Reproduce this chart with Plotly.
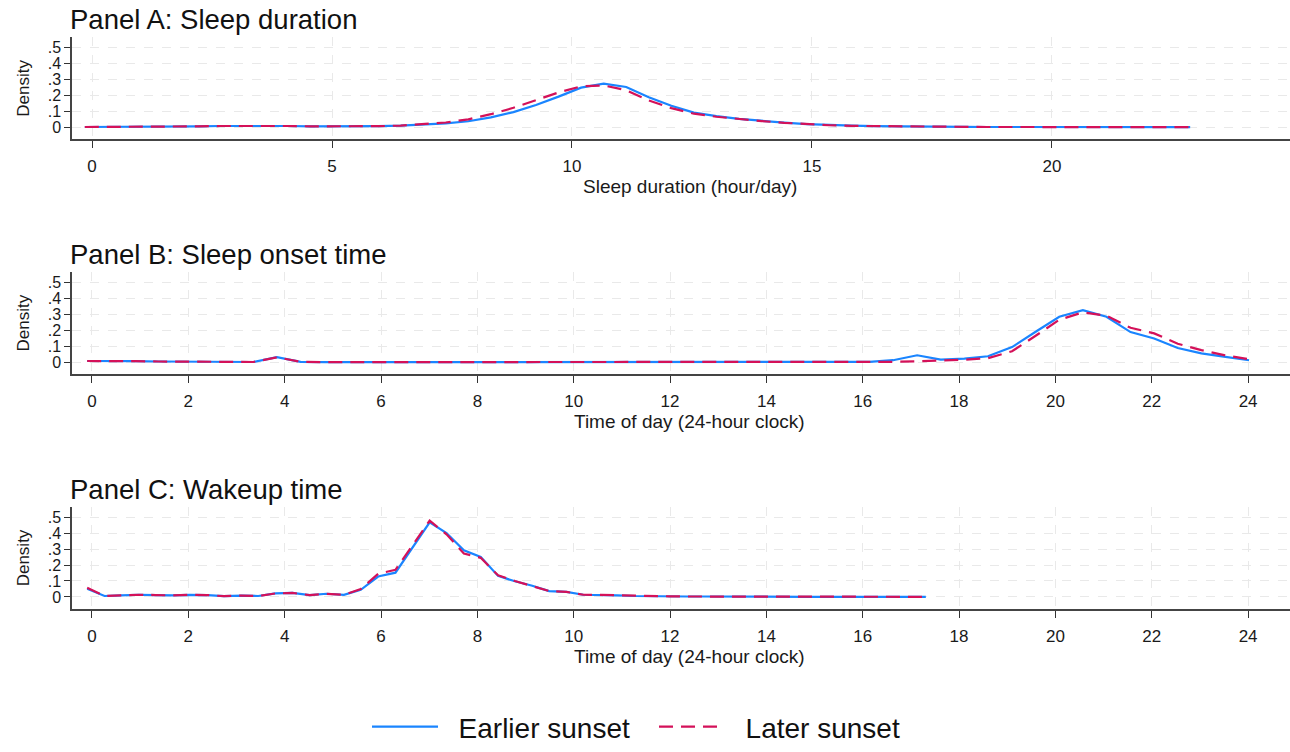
import plotly.graph_objects as go

W, H = 1290, 752

# ---------------- data ----------------
dur_x = [-0.15, 0.32, 0.79, 1.26, 1.73, 2.20, 2.67, 3.14, 3.61, 4.08,
         4.55, 5.02, 5.49, 5.96, 6.43, 6.90, 7.37, 7.84, 8.31, 8.78,
         9.25, 9.72, 10.19, 10.66, 11.13, 11.60, 12.07, 12.54, 13.01, 13.48,
         13.95, 14.42, 14.89, 15.36, 15.83, 16.30, 16.77, 17.24, 17.71, 18.18,
         18.65, 19.12, 19.59, 20.06, 20.53, 21.00, 21.47, 21.94, 22.41, 22.88]
dur_early = [0.002, 0.002, 0.002, 0.003, 0.004, 0.006, 0.008, 0.009, 0.009, 0.008,
             0.006, 0.005, 0.005, 0.007, 0.010, 0.016, 0.024, 0.038, 0.062, 0.095,
             0.140, 0.192, 0.248, 0.273, 0.252, 0.188, 0.135, 0.092, 0.070, 0.053,
             0.040, 0.029, 0.020, 0.014, 0.010, 0.007, 0.005, 0.004, 0.003, 0.003,
             0.002, 0.002, 0.002, 0.001, 0.001, 0.001, 0.001, 0.001, 0.001, 0.001]
dur_late = [0.002, 0.002, 0.002, 0.003, 0.004, 0.006, 0.008, 0.009, 0.009, 0.008,
            0.006, 0.005, 0.005, 0.007, 0.011, 0.019, 0.030, 0.050, 0.082, 0.122,
            0.170, 0.218, 0.256, 0.262, 0.232, 0.168, 0.120, 0.085, 0.066, 0.051,
            0.039, 0.028, 0.019, 0.013, 0.009, 0.007, 0.005, 0.004, 0.003, 0.003,
            0.002, 0.002, 0.002, 0.001, 0.001, 0.001, 0.001, 0.001, 0.001, 0.001]

onset_x = [-0.10, 0.39, 0.88, 1.38, 1.87, 2.36, 2.85, 3.35, 3.84, 4.33,
           4.82, 5.31, 5.81, 6.30, 6.79, 7.28, 7.78, 8.27, 8.76, 9.25,
           9.74, 10.24, 10.73, 11.22, 11.71, 12.21, 12.70, 13.19, 13.68, 14.17,
           14.67, 15.16, 15.65, 16.14, 16.63, 17.13, 17.62, 18.11, 18.60, 19.10,
           19.59, 20.08, 20.57, 21.06, 21.56, 22.05, 22.54, 23.03, 23.53, 24.02]
onset_early = [0.007, 0.008, 0.006, 0.004, 0.003, 0.002, 0.001, 0.001, 0.031, 0.002,
               0.000, 0.000, 0.000, 0.000, 0.000, 0.000, 0.000, 0.000, 0.000, 0.000,
               0.000, 0.000, 0.000, 0.000, 0.000, 0.000, 0.000, 0.000, 0.000, 0.000,
               0.000, 0.000, 0.000, 0.002, 0.012, 0.043, 0.016, 0.022, 0.037, 0.094,
               0.190, 0.284, 0.325, 0.284, 0.188, 0.148, 0.088, 0.055, 0.033, 0.012]
onset_late = [0.007, 0.008, 0.006, 0.004, 0.003, 0.002, 0.001, 0.001, 0.030, 0.002,
              0.000, 0.000, 0.000, 0.000, 0.000, 0.000, 0.000, 0.000, 0.000, 0.000,
              0.000, 0.000, 0.000, 0.000, 0.000, 0.000, 0.000, 0.000, 0.000, 0.000,
              0.000, 0.000, 0.000, 0.001, 0.002, 0.005, 0.010, 0.015, 0.025, 0.068,
              0.165, 0.265, 0.312, 0.290, 0.215, 0.180, 0.115, 0.075, 0.042, 0.018]

wake_x = [-0.10, 0.26, 0.61, 0.97, 1.32, 1.68, 2.03, 2.39, 2.74, 3.10,
          3.45, 3.81, 4.16, 4.52, 4.87, 5.23, 5.58, 5.94, 6.30, 6.65,
          7.01, 7.36, 7.72, 8.07, 8.43, 8.78, 9.14, 9.49, 9.85, 10.20,
          10.56, 10.91, 11.27, 11.62, 11.98, 12.34, 12.69, 13.05, 13.40, 13.76,
          14.11, 14.47, 14.82, 15.18, 15.53, 15.89, 16.24, 16.60, 16.95, 17.31]
wake_early = [0.052, 0.006, 0.010, 0.014, 0.012, 0.010, 0.013, 0.012, 0.005, 0.009,
              0.006, 0.022, 0.025, 0.012, 0.020, 0.013, 0.045, 0.128, 0.152, 0.310,
              0.467, 0.400, 0.292, 0.250, 0.132, 0.098, 0.070, 0.037, 0.032, 0.014,
              0.013, 0.010, 0.006, 0.004, 0.004, 0.003, 0.003, 0.002, 0.002, 0.002,
              0.002, 0.002, 0.001, 0.001, 0.001, 0.001, 0.001, 0.001, 0.001, 0.001]
wake_late = [0.058, 0.006, 0.010, 0.014, 0.012, 0.010, 0.013, 0.012, 0.005, 0.009,
             0.006, 0.022, 0.025, 0.012, 0.020, 0.013, 0.050, 0.145, 0.170, 0.320,
             0.478, 0.392, 0.272, 0.245, 0.135, 0.100, 0.070, 0.037, 0.032, 0.014,
             0.013, 0.010, 0.006, 0.004, 0.004, 0.003, 0.003, 0.002, 0.002, 0.002,
             0.002, 0.002, 0.001, 0.001, 0.001, 0.001, 0.001, 0.001, 0.001, 0.001]

series_names = ["Earlier sunset", "Later sunset"]
panel_titles = ["Panel A: Sleep duration", "Panel B: Sleep onset time", "Panel C: Wakeup time"]
xaxis_titles = ["Sleep duration (hour/day)", "Time of day (24-hour clock)", "Time of day (24-hour clock)"]
y_ticks = [0, 0.1, 0.2, 0.3, 0.4, 0.5]
y_ticklabels = ["0", ".1", ".2", ".3", ".4", ".5"]
dur_ticks = [0, 5, 10, 15, 20]
clock_ticks = [0, 2, 4, 6, 8, 10, 12, 14, 16, 18, 20, 22, 24]

BLUE = "#1a85ff"
RED = "#d41159"
FONT = "Liberation Sans, Arial, sans-serif"
NB = "\u00a0\u00a0"

panels = [
    (dur_x, dur_early, dur_late, dur_ticks, [-0.417, 24.96]),
    (onset_x, onset_early, onset_late, clock_ticks, [-0.415, 24.87]),
    (wake_x, wake_early, wake_late, clock_ticks, [-0.415, 24.87]),
]
# pixel rows (top, bottom) of each plotting area
rows_px = [(38, 141), (276, 379), (514, 617)]
title_y_px = [20, 258, 496]
xtitle_y_px = [189, 427, 665]

fig = go.Figure()
layout = dict(
    width=W, height=H,
    margin=dict(l=0, r=0, t=0, b=0),
    paper_bgcolor="white", plot_bgcolor="white",
    font=dict(family=FONT, color="#1a1a1a"),
    showlegend=True,
    legend=dict(orientation="h", x=654 / W, xanchor="center", y=1 - 737 / H, yanchor="middle",
                font=dict(size=28, color="#111"), itemwidth=66, traceorder="normal",
                entrywidth=206, entrywidthmode="pixels",
                bgcolor="rgba(0,0,0,0)"),
    annotations=[],
)

for i, (xs, ye, yl, ticks, xr) in enumerate(panels):
    n = "" if i == 0 else str(i + 1)
    fig.add_trace(go.Scatter(x=xs, y=ye, mode="lines", name=NB + series_names[0],
                             line=dict(color=BLUE, width=2.2),
                             xaxis="x" + n, yaxis="y" + n, showlegend=(i == 0),
                             legendgroup="e"))
    fig.add_trace(go.Scatter(x=xs, y=yl, mode="lines", name=NB + series_names[1],
                             line=dict(color=RED, width=2.2, dash="14px,8px"),
                             xaxis="x" + n, yaxis="y" + n, showlegend=(i == 0),
                             legendgroup="l"))
    top, bot = rows_px[i]
    layout["xaxis" + n] = dict(
        domain=[72 / W, 1.0], range=xr, anchor="y" + n,
        tickmode="array", tickvals=ticks, ticktext=[str(t) for t in ticks],
        ticks="outside", ticklen=7, tickwidth=1.2, tickcolor="#333",
        ticklabelstandoff=4,
        tickfont=dict(size=17, color="#1a1a1a"),
        showline=True, linecolor="#444", linewidth=1.5,
        showgrid=True, gridcolor="#e9e9e9", gridwidth=1.2, griddash="dash",
        zeroline=False,
    )
    layout["yaxis" + n] = dict(
        domain=[1 - bot / H, 1 - top / H], range=[-0.074, 0.562], anchor="x" + n,
        tickmode="array", tickvals=y_ticks, ticktext=y_ticklabels,
        ticks="outside", ticklen=6, tickwidth=1.2, tickcolor="#333",
        tickfont=dict(size=16, color="#1a1a1a"),
        showline=True, linecolor="#444", linewidth=1.5,
        showgrid=True, gridcolor="#e9e9e9", gridwidth=1.2, griddash="dash",
        zeroline=False,
        title=dict(text="Density", font=dict(size=17, color="#1a1a1a"), standoff=14),
    )
    layout["annotations"].append(dict(
        text=panel_titles[i], xref="paper", yref="paper", x=68 / W, y=1 - title_y_px[i] / H,
        xanchor="left", yanchor="middle", showarrow=False,
        font=dict(size=27.5, color="#111")))
    layout["annotations"].append(dict(
        text=xaxis_titles[i], xref="paper", yref="paper", x=690 / W, y=1 - xtitle_y_px[i] / H,
        xanchor="center", yanchor="middle", showarrow=False,
        font=dict(size=19, color="#1a1a1a")))

fig.update_layout(**layout)
fig.write_html("out.html")
